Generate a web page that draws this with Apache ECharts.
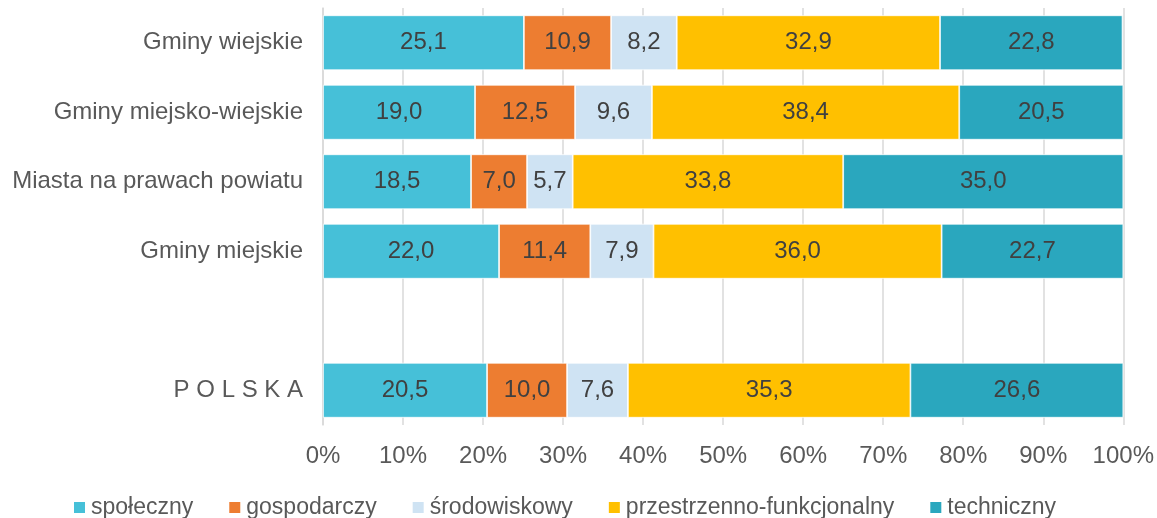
<!DOCTYPE html>
<html><head><meta charset="utf-8">
<script src="https://cdn.jsdelivr.net/npm/echarts@6/dist/echarts.min.js"></script>
<style>html,body{margin:0;padding:0;background:#fff}#c{width:1157px;height:518px}</style>
</head><body><div id="c"></div>
<script>
const categories = ['Gminy wiejskie', 'Gminy miejsko-wiejskie', 'Miasta na prawach powiatu', 'Gminy miejskie', '', 'P O L S K A'];
const seriesNames = ['społeczny', 'gospodarczy', 'środowiskowy', 'przestrzenno-funkcjonalny', 'techniczny'];
const spoleczny = [25.1, 19.0, 18.5, 22.0, '-', 20.5];
const gospodarczy = [10.9, 12.5, 7.0, 11.4, '-', 10.0];
const srodowiskowy = [8.2, 9.6, 5.7, 7.9, '-', 7.6];
const przestrzenno = [32.9, 38.4, 33.8, 36.0, '-', 35.3];
const techniczny = [22.8, 20.5, 35.0, 22.7, '-', 26.6];
const xTicks = [0, 10, 20, 30, 40, 50, 60, 70, 80, 90, 100];
const colors = ['#46C0D8', '#ED7D31', '#CFE3F3', '#FFC000', '#2AA7BE'];
const values = [spoleczny, gospodarczy, srodowiskowy, przestrzenno, techniczny];

const font = 'Liberation Sans, Arial, sans-serif';
const chart = echarts.init(document.getElementById('c'));
chart.setOption({
  animation: false,
  textStyle: { fontFamily: font },
  grid: { left: 323, right: 33, top: 8, bottom: 93, containLabel: false },
  legend: {
    top: 496, left: 72, padding: 0,
    itemWidth: 13, itemHeight: 13, itemGap: 34,
    icon: 'rect',
    textStyle: { fontSize: 23, color: '#595959', fontFamily: font },
    data: seriesNames
  },
  xAxis: {
    type: 'value', min: 0, max: 100, interval: 10,
    axisLine: { show: false }, axisTick: { show: false },
    splitLine: { lineStyle: { color: '#D9D9D9', width: 1.5 } },
    axisLabel: { formatter: v => xTicks.includes(v) ? v + '%' : '', fontSize: 24, color: '#595959', margin: 19, fontFamily: font }
  },
  yAxis: {
    type: 'category', inverse: true, data: categories,
    axisLine: { show: true, lineStyle: { color: '#D9D9D9', width: 1.5 } },
    axisTick: { show: false },
    axisLabel: { fontSize: 24, color: '#595959', margin: 20, fontFamily: font }
  },
  series: seriesNames.map((n, i) => ({
    name: n, type: 'bar', stack: 'total', data: values[i],
    barCategoryGap: '21%',
    itemStyle: { color: colors[i], borderColor: '#fff', borderWidth: 0.75 },
    label: { show: true, position: 'inside', fontSize: 24, color: '#404040', fontFamily: font,
      formatter: p => p.value.toFixed(1).replace('.', ',') }
  }))
});
</script></body></html>
